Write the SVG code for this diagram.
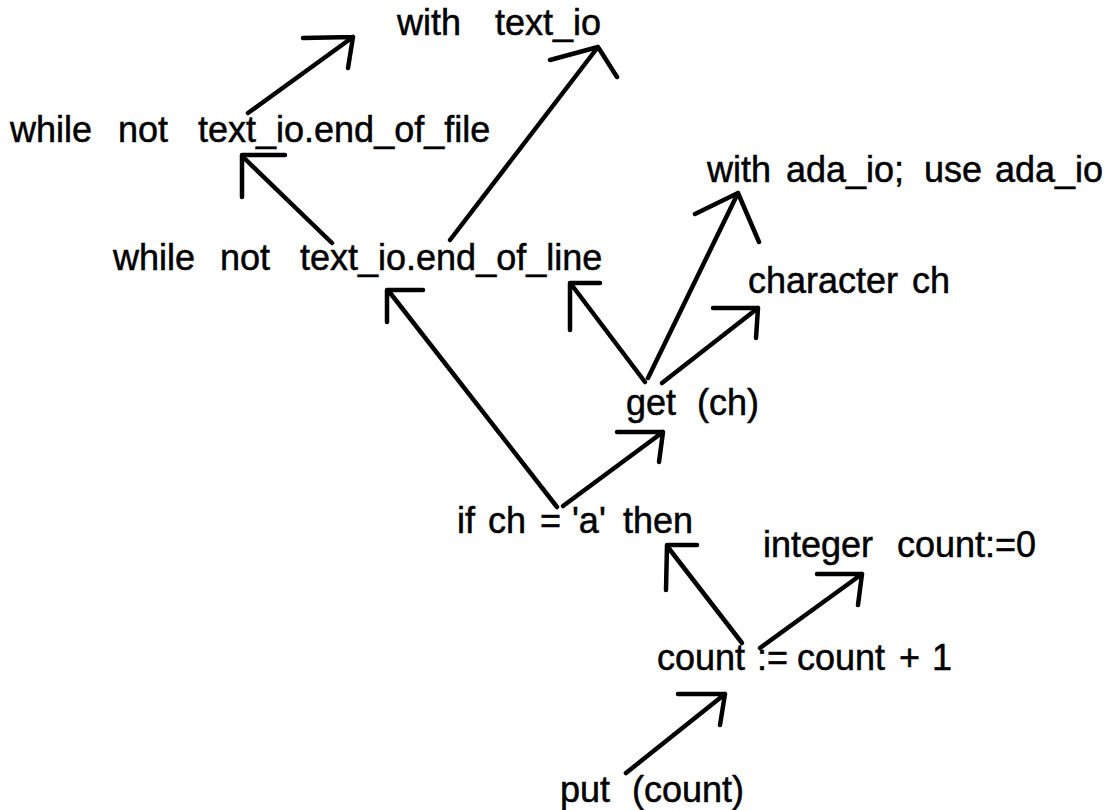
<svg xmlns="http://www.w3.org/2000/svg" width="1116" height="810" viewBox="0 0 1116 810">
<style>
.t{font-family:"Liberation Sans",Arial,sans-serif;font-size:36px;fill:#000;stroke:#000;stroke-width:0.5}
.c{fill:none;stroke:#000;stroke-width:4.5;stroke-linecap:round;stroke-linejoin:round}
</style>
<rect width="1116" height="810" fill="#fff"/>
<g id="connectors">
<path class="c" d="M248 113 L353 37 M303 38 L353 37 L348 68"/>
<path class="c" d="M450 240 L598 47 M550 60 L598 47 L617 77"/>
<path class="c" d="M332 243 L242 156 M285 155 L242 155 L242 197"/>
<path class="c" d="M557 507 L391 294 M423 290 L387 290 L387 322"/>
<path class="c" d="M645 382 L571 284 M600 283 L570 283 L570 330"/>
<path class="c" d="M648 378 L738 193 M695 214 L738 193 L759 242"/>
<path class="c" d="M662 383 L758 308 M713 308 L758 308 L756 338"/>
<path class="c" d="M563 506 L663 432 M617 432 L663 432 L659 462"/>
<path class="c" d="M742 643 L667 546 M697 545 L667 545 L666 590"/>
<path class="c" d="M760 648 L862 574 M817 574 L862 574 L858 605"/>
<path class="c" d="M626 773 L725 694 M678 694 L725 694 L720 725"/>
</g>
<g id="n-with-textio"><text class="t" y="35"><tspan x="397">with</tspan><tspan x="495">text_io</tspan></text></g>
<g id="n-eof"><text class="t" y="142"><tspan x="10">while</tspan><tspan x="118">not</tspan><tspan x="198">text_io.end_of_file</tspan></text></g>
<g id="n-adaio"><text class="t" y="182"><tspan x="707">with</tspan><tspan x="786">ada_io;</tspan><tspan x="924">use</tspan><tspan x="995">ada_io</tspan></text></g>
<g id="n-eol"><text class="t" y="270"><tspan x="113">while</tspan><tspan x="220">not</tspan><tspan x="300">text_io.end_of_line</tspan></text></g>
<g id="n-char"><text class="t" y="293"><tspan x="748">character</tspan><tspan x="912">ch</tspan></text></g>
<g id="n-get"><text class="t" y="415"><tspan x="626">get</tspan><tspan x="697">(ch)</tspan></text></g>
<g id="n-if"><text class="t" y="533"><tspan x="457">if</tspan><tspan x="488">ch</tspan><tspan x="540">=</tspan><tspan x="572">'a'</tspan><tspan x="623">then</tspan></text></g>
<g id="n-integer"><text class="t" y="557"><tspan x="763">integer</tspan><tspan x="897">count:=0</tspan></text></g>
<g id="n-count"><text class="t" y="670"><tspan x="657">count</tspan><tspan x="757">:=</tspan><tspan x="797">count</tspan><tspan x="899">+</tspan><tspan x="932">1</tspan></text></g>
<g id="n-put"><text class="t" y="802"><tspan x="560">put</tspan><tspan x="632">(count)</tspan></text></g>
</svg>
